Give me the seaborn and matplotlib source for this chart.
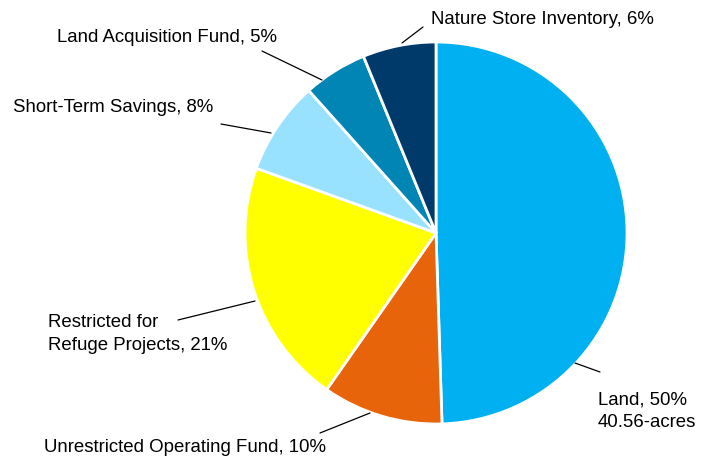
import matplotlib
matplotlib.use("Agg")
import matplotlib.pyplot as plt
import seaborn as sns

# Data (shares of total; clockwise from 12 o'clock)
categories = ["Land", "Unrestricted Operating Fund", "Restricted for Refuge Projects",
              "Short-Term Savings", "Land Acquisition Fund", "Nature Store Inventory"]
shares = [49.5, 10.2, 20.8, 7.9, 5.4, 6.2]
label_texts = ["Land, 50%\n40.56-acres", "Unrestricted Operating Fund, 10%",
               "Restricted for\nRefuge Projects, 21%", "Short-Term Savings, 8%",
               "Land Acquisition Fund, 5%", "Nature Store Inventory, 6%"]
colors = ["#00B0F0", "#E8640A", "#FFFF00", "#99E2FF", "#0085B4", "#003A6B"]

sns.set_theme(style="white")
plt.rcParams['font.family'] = ['Liberation Sans', 'DejaVu Sans']

W, H = 707, 457
fig = plt.figure(figsize=(W / 100, H / 100), dpi=100)
ax = fig.add_axes([0, 0, 1, 1])

def px(x, y):
    # pixel coords (origin top-left) -> data coords
    return (x, H - y)

ax.pie(shares, colors=colors, startangle=90, counterclock=False,
       center=px(436, 233), radius=191,
       wedgeprops=dict(edgecolor="white", linewidth=2))
ax.set_xlim(0, W)
ax.set_ylim(0, H)
ax.set_aspect("equal")
ax.axis("off")

# label placement: (text x, text y, leader start, leader end on pie)
layout = [
    ((598, 411), (600, 372), (575, 363)),
    ((44, 447), (320, 433), (370, 413)),
    ((48, 334), (178, 320), (255, 301)),
    ((13, 108), (221, 124), (271, 133)),
    ((57, 38), (262, 51), (322, 80)),
    ((431, 20), (423, 27), (402, 43)),
]

for txt, (tpos, p0, p1) in zip(label_texts, layout):
    ax.text(*px(*tpos), txt, ha="left", va="center", fontsize=13.4,
            color="black", linespacing=1.42)
    ax.plot([px(*p0)[0], px(*p1)[0]], [px(*p0)[1], px(*p1)[1]],
            color="black", linewidth=0.9)

fig.savefig("out.png", dpi=100)
